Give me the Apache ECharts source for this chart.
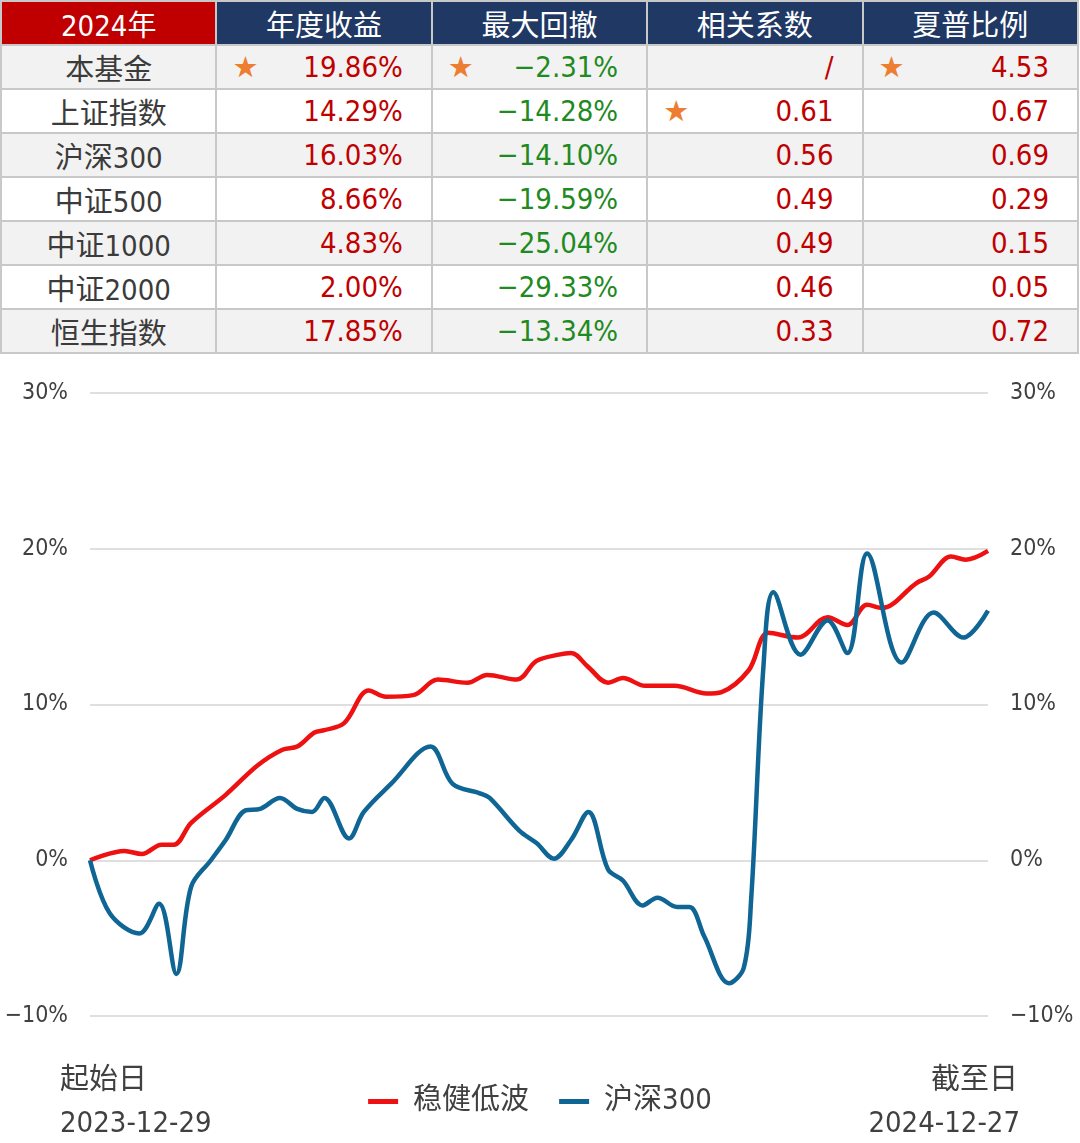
<!DOCTYPE html>
<html>
<head>
<meta charset="utf-8">
<script src="https://cdn.jsdelivr.net/npm/echarts@6/dist/echarts.min.js"></script>
<style>
  html, body { margin: 0; padding: 0; background: #fff; }
  body { width: 1080px; height: 1143px; position: relative; overflow: hidden; }
  #table { position: absolute; left: 0; top: 0; width: 1079px; border-collapse: collapse; table-layout: fixed;
    font-family: "Liberation Sans Narrow", "DejaVu Sans Condensed", "Noto Sans CJK SC", sans-serif; font-size: 29px; }
  #table td, #table th { height: 42px; padding: 0; border: 2px solid #c8c8c8; position: relative; }
  #table th { font-weight: normal; color: #fff; background: #1f3864; border-color: #c8c8c8; }
  #table th.first { background: #c00000; }
  #table td { text-align: right; padding-right: 28px; }
  #table td.name { text-align: center; padding-right: 0; color: #3b3b3b; }
  #table tr.odd td { background: #f2f2f2; }
  #table tr.even td { background: #fff; }
  .pos { color: #c00000; }
  .neg { color: #1f8a1f; }
  .star { position: absolute; left: 15px; top: 50%; transform: translateY(-50%); color: #ed7d31; font-size: 29px;
    font-family: "DejaVu Sans", sans-serif; }
  #eChart { position: absolute; left: 0; top: 352px; width: 1080px; height: 791px; }
</style>
</head>
<body>
<table id="table"></table>
<div id="eChart"></div>
<script>
// 表格数据
const headers = ["2024年", "年度收益", "最大回撤", "相关系数", "夏普比例"];
const rowNames = ["本基金", "上证指数", "沪深300", "中证500", "中证1000", "中证2000", "恒生指数"];
const annualReturn = ["19.86%", "14.29%", "16.03%", "8.66%", "4.83%", "2.00%", "17.85%"];
const maxDrawdown = ["−2.31%", "−14.28%", "−14.10%", "−19.59%", "−25.04%", "−29.33%", "−13.34%"];
const correlation = ["/", "0.61", "0.56", "0.49", "0.49", "0.46", "0.33"];
const sharpe = ["4.53", "0.67", "0.69", "0.29", "0.15", "0.05", "0.72"];
// 带星标的单元格 [行, 列]
const starCells = [[0, 1], [0, 2], [0, 4], [1, 3]];

// 折线数据：横轴为距起始日的天数
const fundDays = [0, 14, 21, 29, 34, 41, 55, 68, 78, 84, 91, 95, 103, 113, 120, 131, 141, 153, 161, 173, 181, 190, 195, 202, 210, 216, 225, 237, 250, 256, 267, 275, 287, 299, 307, 315, 321, 335, 340, 349, 355, 364];
const fundValues = [0, 0.6, 0.4, 1.0, 1.0, 2.4, 4.2, 6.1, 7.1, 7.3, 8.2, 8.35, 8.8, 10.9, 10.5, 10.6, 11.6, 11.4, 11.9, 11.6, 12.8, 13.2, 13.3, 12.4, 11.4, 11.7, 11.2, 11.2, 10.7, 10.8, 12.2, 14.6, 14.3, 15.6, 15.1, 16.4, 16.2, 17.8, 18.2, 19.5, 19.3, 19.86];
const hsDays = [0, 8, 20, 28, 35, 41, 49, 55, 63, 69, 77, 84, 90, 95, 105, 111, 122, 138, 147, 158, 162, 174, 181, 188, 195, 202, 210, 216, 224, 230, 238, 243, 249, 259, 265, 268, 273, 277, 288, 299, 307, 315, 329, 342, 354, 364];
const hsValues = [0, -3.4, -4.7, -2.8, -7.3, -1.7, 0, 1.3, 3.2, 3.3, 4.0, 3.3, 3.1, 4.0, 1.4, 3.1, 4.9, 7.3, 4.9, 4.3, 4.0, 1.9, 1.1, 0.1, 1.3, 3.1, -0.6, -1.3, -2.9, -2.4, -3.0, -3.0, -4.9, -7.9, -6.9, -2.5, 12.5, 17.2, 13.2, 15.4, 13.3, 19.7, 12.7, 15.9, 14.3, 16.03];
const yTicks = [-10, 0, 10, 20, 30];
const startDate = "2023-12-29";
const endDate = "2024-12-27";

// 生成表格
function buildTable() {
  const table = document.getElementById("table");
  let html = "<tr>";
  headers.forEach((h, i) => {
    html += `<th class="${i === 0 ? "first" : ""}">${h}</th>`;
  });
  html += "</tr>";
  const cols = [annualReturn, maxDrawdown, correlation, sharpe];
  rowNames.forEach((name, r) => {
    html += `<tr class="${r % 2 === 0 ? "odd" : "even"}"><td class="name">${name}</td>`;
    cols.forEach((col, c) => {
      const v = col[r];
      const cls = v.indexOf("−") === 0 ? "neg" : "pos";
      const hasStar = starCells.some(s => s[0] === r && s[1] === c + 1);
      html += `<td class="${cls}">${hasStar ? '<span class="star">★</span>' : ""}${v}</td>`;
    });
    html += "</tr>";
  });
  table.innerHTML = html;
}
buildTable();

const font = '"Liberation Sans Narrow", "DejaVu Sans Condensed", "Noto Sans CJK SC", sans-serif';
const textColor = "#404040";

function yAxisOf(position) {
  return {
    type: "value",
    position: position,
    min: yTicks[0],
    max: yTicks[yTicks.length - 1],
    interval: 10,
    axisLine: { show: false },
    axisTick: { show: false },
    axisLabel: {
      margin: 22,
      fontSize: 23,
      color: textColor,
      fontFamily: font,
      formatter: v => (v < 0 ? "−" + Math.abs(v) : v) + "%",
    },
    splitLine: { show: position === "left", lineStyle: { color: "#d4d4d4", width: 1.5 } },
  };
}

const myChart = echarts.init(document.getElementById("eChart"));
const option = {
  animation: false,
  grid: { left: 90, right: 92, top: 41, bottom: 127, outerBoundsMode: "none", containLabel: false },
  xAxis: {
    type: "value",
    min: 0,
    max: 364,
    show: false,
  },
  yAxis: [yAxisOf("left"), yAxisOf("right")],
  legend: {
    top: 730,
    left: "center",
    itemWidth: 30,
    itemHeight: 5,
    itemGap: 30,
    icon: "rect",
    textStyle: { fontSize: 29, color: textColor, fontFamily: font, padding: [0, 0, 0, 10] },
    data: ["稳健低波", "沪深300"],
  },
  graphic: [
    { type: "text", left: 60, top: 715, style: { text: "起始日", fontSize: 29, fill: textColor, fontFamily: font } },
    { type: "text", left: 60, top: 758, style: { text: startDate, fontSize: 29, fill: textColor, fontFamily: font } },
    { type: "text", right: 62, top: 715, style: { text: "截至日", fontSize: 29, fill: textColor, fontFamily: font } },
    { type: "text", right: 60, top: 758, style: { text: endDate, fontSize: 29, fill: textColor, fontFamily: font } },
  ],
  series: [
    {
      name: "稳健低波",
      type: "line",
      smooth: 0.35,
      symbol: "none",
      data: fundDays.map((d, i) => [d, fundValues[i]]),
      itemStyle: { color: "#ee1111" },
      lineStyle: { width: 4.5, color: "#ee1111" },
    },
    {
      name: "沪深300",
      type: "line",
      smooth: 0.35,
      symbol: "none",
      data: hsDays.map((d, i) => [d, hsValues[i]]),
      itemStyle: { color: "#0f6594" },
      lineStyle: { width: 4.5, color: "#0f6594" },
    },
  ],
};
myChart.setOption(option);
</script>
</body>
</html>
